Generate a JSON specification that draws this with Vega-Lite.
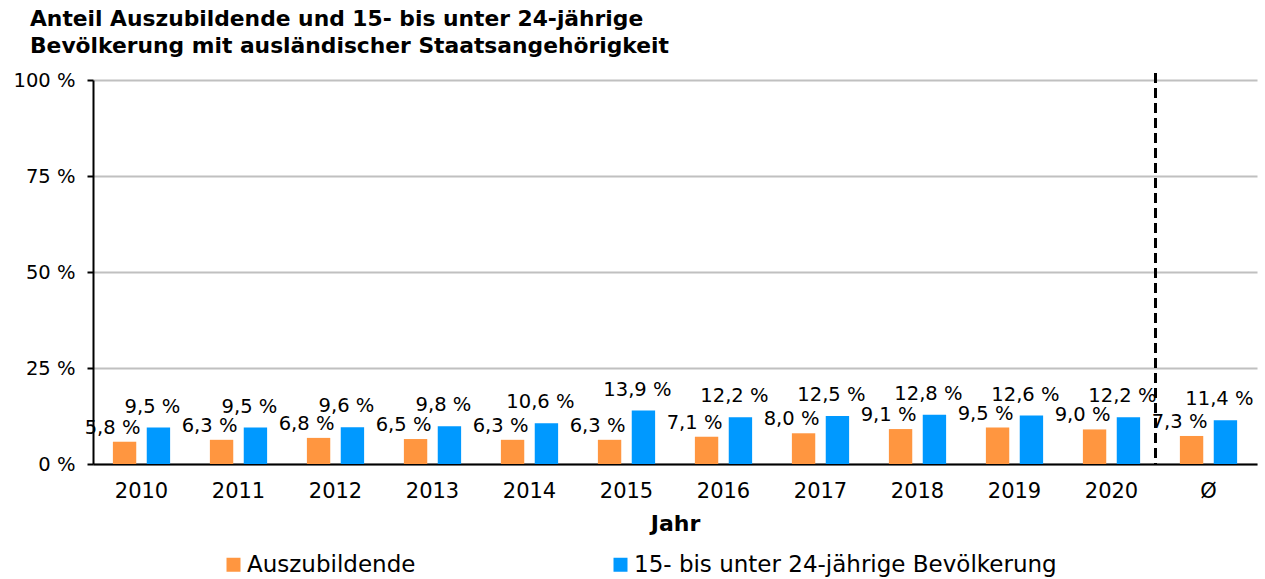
{
  "$schema": "https://vega.github.io/schema/vega-lite/v6.json",
  "width": 1164,
  "height": 384,
  "autosize": {"type": "none"},
  "padding": {"left": 93, "top": 80, "right": 8, "bottom": 115},
  "background": "white",
  "title": {
    "text": ["Anteil Auszubildende und 15- bis unter 24-jährige", "Bevölkerung mit ausländischer Staatsangehörigkeit"],
    "anchor": "start",
    "frame": "group",
    "dx": -63,
    "offset": 12,
    "font": "DejaVu Sans",
    "fontSize": 21.8,
    "fontWeight": "bold",
    "lineHeight": 27,
    "color": "black"
  },
  "config": {
    "font": "DejaVu Sans",
    "view": {"stroke": null},
    "locale": {"number": {"decimal": ",", "thousands": ".", "grouping": [3], "currency": ["", " %"]}}
  },
  "data": {
    "values": [
      {"jahr": "2010", "gruppe": "Auszubildende", "anteil": 5.8},
      {"jahr": "2010", "gruppe": "15- bis unter 24-jährige Bevölkerung", "anteil": 9.5},
      {"jahr": "2011", "gruppe": "Auszubildende", "anteil": 6.3},
      {"jahr": "2011", "gruppe": "15- bis unter 24-jährige Bevölkerung", "anteil": 9.5},
      {"jahr": "2012", "gruppe": "Auszubildende", "anteil": 6.8},
      {"jahr": "2012", "gruppe": "15- bis unter 24-jährige Bevölkerung", "anteil": 9.6},
      {"jahr": "2013", "gruppe": "Auszubildende", "anteil": 6.5},
      {"jahr": "2013", "gruppe": "15- bis unter 24-jährige Bevölkerung", "anteil": 9.8},
      {"jahr": "2014", "gruppe": "Auszubildende", "anteil": 6.3},
      {"jahr": "2014", "gruppe": "15- bis unter 24-jährige Bevölkerung", "anteil": 10.6},
      {"jahr": "2015", "gruppe": "Auszubildende", "anteil": 6.3},
      {"jahr": "2015", "gruppe": "15- bis unter 24-jährige Bevölkerung", "anteil": 13.9},
      {"jahr": "2016", "gruppe": "Auszubildende", "anteil": 7.1},
      {"jahr": "2016", "gruppe": "15- bis unter 24-jährige Bevölkerung", "anteil": 12.2},
      {"jahr": "2017", "gruppe": "Auszubildende", "anteil": 8.0},
      {"jahr": "2017", "gruppe": "15- bis unter 24-jährige Bevölkerung", "anteil": 12.5},
      {"jahr": "2018", "gruppe": "Auszubildende", "anteil": 9.1},
      {"jahr": "2018", "gruppe": "15- bis unter 24-jährige Bevölkerung", "anteil": 12.8},
      {"jahr": "2019", "gruppe": "Auszubildende", "anteil": 9.5},
      {"jahr": "2019", "gruppe": "15- bis unter 24-jährige Bevölkerung", "anteil": 12.6},
      {"jahr": "2020", "gruppe": "Auszubildende", "anteil": 9.0},
      {"jahr": "2020", "gruppe": "15- bis unter 24-jährige Bevölkerung", "anteil": 12.2},
      {"jahr": "Ø", "gruppe": "Auszubildende", "anteil": 7.3},
      {"jahr": "Ø", "gruppe": "15- bis unter 24-jährige Bevölkerung", "anteil": 11.4}
    ]
  },
  "encoding": {
    "x": {
      "field": "jahr",
      "type": "nominal",
      "sort": null,
      "scale": {"paddingInner": 0.41, "paddingOuter": 0.205},
      "axis": {
        "title": "Jahr",
        "titleFontSize": 22,
        "titleFontWeight": "bold",
        "titleColor": "black",
        "titlePadding": 12,
        "labelFontSize": 21,
        "labelColor": "black",
        "labelAngle": 0,
        "labelPadding": 16,
        "ticks": false,
        "tickSize": 0,
        "domainColor": "black",
        "domainWidth": 2,
        "grid": false
      }
    },
    "xOffset": {
      "field": "gruppe",
      "type": "nominal",
      "sort": ["Auszubildende", "15- bis unter 24-jährige Bevölkerung"],
      "scale": {"paddingInner": 0.31}
    },
    "y": {
      "field": "anteil",
      "type": "quantitative",
      "scale": {"domain": [0, 100]},
      "axis": {
        "title": null,
        "values": [0, 25, 50, 75, 100],
        "format": "$d",
        "grid": true,
        "gridColor": "#c0c0c0",
        "gridWidth": 2,
        "domainColor": "black",
        "domainWidth": 2,
        "tickColor": "black",
        "tickWidth": 2,
        "tickSize": 6,
        "labelFontSize": 19.5,
        "labelColor": "black",
        "labelPadding": 12
      }
    }
  },
  "layer": [
    {
      "mark": {"type": "bar"},
      "encoding": {
        "color": {
          "field": "gruppe",
          "type": "nominal",
          "scale": {"domain": ["Auszubildende", "15- bis unter 24-jährige Bevölkerung"], "range": ["#ff9640", "#0099ff"]},
          "legend": {
            "orient": "none",
            "legendX": 129,
            "legendY": 473,
            "direction": "horizontal",
            "title": null,
            "symbolType": "square",
            "symbolSize": 196,
            "symbolStrokeWidth": 0,
            "symbolOpacity": 1,
            "labelFontSize": 23,
            "labelColor": "black",
            "labelOffset": 2,
            "columnPadding": 193,
            "padding": 0,
            "labelLimit": 600
          }
        }
      }
    },
    {
      "transform": [{"filter": "datum.gruppe === 'Auszubildende'"}],
      "mark": {"type": "text", "dx": -12, "dy": -8, "baseline": "alphabetic", "fontSize": 19.5, "color": "black"},
      "encoding": {"text": {"field": "anteil", "type": "quantitative", "format": "$.1f"}}
    },
    {
      "transform": [{"filter": "datum.gruppe !== 'Auszubildende'"}],
      "mark": {"type": "text", "dx": -6, "dy": -15, "baseline": "alphabetic", "fontSize": 19.5, "color": "black"},
      "encoding": {"text": {"field": "anteil", "type": "quantitative", "format": "$.1f"}}
    },
    {
      "mark": {"type": "rule", "color": "black", "strokeWidth": 2.5, "strokeDash": [9, 6]},
      "encoding": {
        "x": {"datum": "2020", "bandPosition": 1.27},
        "xOffset": null,
        "y": {"datum": 101.6},
        "y2": {"datum": 0}
      }
    }
  ]
}
